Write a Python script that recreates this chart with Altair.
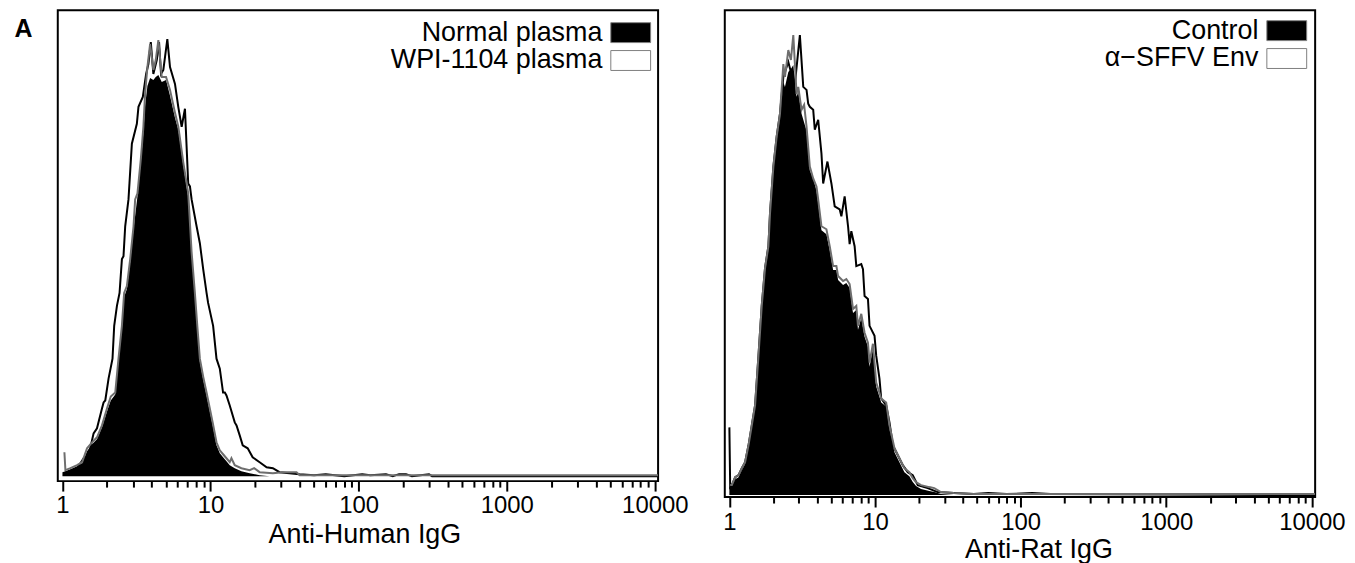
import altair as alt
import pandas as pd

# ---------------- tick values ----------------
TICK_VALUES = [1, 2, 3, 4, 5, 6, 7, 8, 9,
               10, 20, 30, 40, 50, 60, 70, 80, 90,
               100, 200, 300, 400, 500, 600, 700, 800, 900,
               1000, 2000, 3000, 4000, 5000, 6000, 7000, 8000, 9000,
               10000]
MAJOR_TICKS = [1, 10, 100, 1000, 10000]

# ---------------- left panel (Anti-Human IgG) ----------------
LEFT_LABELS = ["Normal plasma", "WPI-1104 plasma"]

normal_fill_x = [1.0, 1.047, 1.132, 1.256, 1.357, 1.466, 1.584, 1.711, 1.849, 1.998,
                 2.120, 2.273, 2.390, 2.520, 2.610, 2.723, 2.867, 3.020, 3.210, 3.380,
                 3.520, 3.615, 3.747, 3.907, 4.111, 4.266, 4.443, 4.683, 5.006, 5.325,
                 5.753, 6.060, 6.550, 7.070, 7.450, 7.840, 8.150, 8.470, 8.920, 9.400,
                 9.890, 10.40, 10.97, 11.55, 12.15, 12.81, 13.48, 14.57, 16.16, 18.38,
                 21.46, 25.0, 30.0]
normal_fill_y = [4, 5, 7, 10, 13, 25, 32, 37, 49, 65,
                 76, 82, 116, 149, 180, 188, 215, 248, 281, 315,
                 345, 372, 392, 400, 398, 401, 403, 396, 398, 382,
                 360, 348, 312, 280, 222, 181, 147, 115, 97, 81,
                 65, 49, 31, 23, 19, 15, 11, 8, 5, 3,
                 1, 0, 0]

normal_line_x = [1.031, 1.047, 1.132, 1.256, 1.357, 1.466, 1.584, 1.711, 1.849, 1.998,
                 2.120, 2.273, 2.390, 2.520, 2.610, 2.723, 2.867, 3.020, 3.097, 3.210,
                 3.380, 3.436, 3.520, 3.615, 3.747, 3.907, 4.111, 4.266, 4.443, 4.683,
                 5.006, 5.325, 5.753, 6.060, 6.550, 7.070, 7.450, 7.840, 8.150, 8.470,
                 8.920, 9.400, 9.890, 10.40, 10.97, 11.55, 12.15, 12.81, 13.48, 13.84,
                 14.57, 16.16, 18.38, 19.70, 21.46, 26.36, 30.64, 38.06, 40.0, 60.0,
                 100.0, 10500.0]
normal_line_y = [24, 6, 8, 11, 14, 28, 34, 39, 51, 68,
                 80, 84, 118, 151, 184, 191, 218, 251, 278, 284,
                 318, 331, 351, 384, 411, 434, 408, 418, 438, 401,
                 401, 388, 365, 351, 315, 284, 225, 184, 150, 118,
                 100, 84, 68, 52, 34, 26, 22, 18, 14, 18,
                 11, 8, 6, 8, 4, 3, 4, 4, 1, 1,
                 1, 1]

wpi_x = [1.031, 1.075, 1.256, 1.391, 1.503, 1.623, 1.711, 1.849, 1.896, 1.946,
         2.048, 2.178, 2.236, 2.333, 2.430, 2.521, 2.584, 2.653, 2.792, 2.943,
         3.180, 3.261, 3.489, 3.673, 3.806, 3.950, 4.111, 4.335, 4.491, 4.632,
         4.800, 5.108, 5.325, 5.753, 6.055, 6.383, 6.718, 7.067, 7.260, 7.450,
         8.050, 8.470, 8.920, 9.400, 9.630, 10.41, 10.97, 11.55, 12.15, 12.49,
         12.81, 13.48, 14.57, 14.98, 15.74, 16.49, 17.82, 19.25, 21.46, 23.91,
         26.36, 29.24, 34.15, 39.86, 50.0, 60.0, 80.0, 105.7, 120.0, 153.0,
         170.0, 187.5, 209.0, 229.0, 298.5, 313.0, 10500.0]
wpi_y = [3, 4, 8, 18, 21, 43, 48, 68, 74, 76,
         98, 118, 151, 171, 184, 218, 221, 251, 278, 334,
         354, 371, 381, 404, 414, 436, 404, 418, 436, 404,
         408, 439, 411, 394, 371, 351, 369, 294, 291, 278,
         251, 234, 208, 184, 174, 151, 118, 108, 84, 84,
         81, 71, 54, 51, 41, 31, 28, 19, 14, 9,
         8, 4, 3, 2, 1, 2, 0, 2, 1, 2,
         0, 2, 2, 0, 2, 0, 0]

# ---------------- right panel (Anti-Rat IgG) ----------------
RIGHT_LABELS = ["Control", "\u03b1\u2212SFFV Env"]

control_fill_x = [1.0, 1.013, 1.040, 1.096, 1.156, 1.217, 1.282, 1.353, 1.425, 1.501,
                  1.584, 1.668, 1.757, 1.853, 1.901, 2.005, 2.112, 2.225, 2.347, 2.407,
                  2.539, 2.645, 2.747, 2.893, 2.972, 3.130, 3.387, 3.567, 3.763, 3.963,
                  4.071, 4.288, 4.639, 4.887, 5.155, 5.430, 5.577, 6.034, 6.355, 6.694,
                  7.062, 7.439, 7.640, 8.048, 8.477, 8.943, 9.171, 9.674, 10.19, 11.03,
                  11.93, 12.57, 13.60, 14.71, 15.91, 17.21, 18.16, 19.12, 20.70, 23.58,
                  25.51, 28.35, 34.78]
control_fill_y = [8, 9, 9, 16, 18, 25, 31, 48, 68, 88,
                  137, 186, 224, 246, 279, 326, 356, 378, 415, 410,
                  425, 428, 432, 400, 405, 383, 366, 326, 318, 306,
                  293, 266, 262, 246, 226, 226, 216, 211, 213, 208,
                  183, 186, 166, 178, 159, 149, 129, 148, 109, 93,
                  89, 66, 43, 33, 23, 19, 13, 9, 6, 4,
                  3, 1, 0]

control_line_x = [1.013, 1.040, 1.096, 1.156, 1.217, 1.282, 1.353, 1.425, 1.501, 1.584,
                  1.668, 1.757, 1.853, 1.901, 2.005, 2.112, 2.225, 2.347, 2.407, 2.539,
                  2.645, 2.747, 2.893, 2.972, 3.130, 3.260, 3.387, 3.567, 3.763, 3.963,
                  4.071, 4.288, 4.639, 4.887, 5.155, 5.430, 5.577, 6.034, 6.355, 6.694,
                  7.062, 7.439, 7.640, 8.048, 8.477, 8.943, 9.171, 9.674, 10.19, 11.03,
                  11.93, 12.57, 13.60, 14.71, 15.91, 17.21, 18.16, 19.12, 20.70, 23.58,
                  25.51, 28.35, 34.78, 47.64, 60.0, 10500.0]
control_line_y = [10, 10, 18, 20, 27, 33, 50, 70, 90, 140,
                  190, 228, 250, 283, 330, 360, 383, 433, 420, 447,
                  437, 462, 403, 410, 387, 392, 370, 330, 318, 310,
                  297, 270, 267, 250, 230, 230, 220, 215, 217, 212,
                  187, 190, 170, 182, 163, 153, 133, 152, 113, 97,
                  93, 70, 47, 37, 27, 23, 17, 13, 10, 8,
                  7, 3, 2, 1, 1, 1]

env_x = [1.0, 1.013, 1.040, 1.096, 1.156, 1.217, 1.282, 1.353, 1.425, 1.501,
         1.584, 1.668, 1.757, 1.853, 1.901, 2.005, 2.112, 2.225, 2.347, 2.539,
         2.645, 2.817, 3.048, 3.216, 3.387, 3.478, 3.567, 3.763, 3.859, 4.071,
         4.288, 4.405, 4.713, 5.019, 5.287, 5.719, 5.875, 6.187, 6.529, 6.694,
         6.876, 7.243, 7.439, 8.048, 8.266, 8.477, 8.943, 9.171, 9.922, 10.19,
         10.73, 11.03, 11.93, 12.57, 13.26, 14.34, 15.51, 16.78, 18.16, 19.65,
         22.99, 26.92, 34.78, 47.64, 60.0, 80.0, 120.0, 160.0, 10500.0]
env_y = [68, 8, 10, 18, 20, 27, 33, 50, 70, 90,
         140, 190, 228, 250, 283, 330, 360, 383, 420, 435,
         425, 413, 462, 410, 407, 393, 390, 387, 367, 377,
         343, 313, 335, 313, 290, 287, 280, 300, 270, 252,
         265, 250, 230, 232, 227, 200, 197, 170, 160, 140,
         117, 97, 90, 73, 50, 40, 30, 23, 20, 10,
         7, 3, 2, 1, 2, 1, 2, 1, 0]

FONT = "Liberation Sans"
GREY = "#6e6e6e"
X_DOMAIN = [0.93, 10520]


def table(xs, ys, series):
    assert len(xs) == len(ys), (series, len(xs), len(ys))
    return pd.DataFrame({"x": xs, "count": ys, "series": series})


MAJOR_TEST = "indexof([1, 10, 100, 1000, 10000], datum.value) >= 0"


def swatch_legend(legend_x, legend_y):
    return alt.Legend(
        title=None, orient="none", legendX=legend_x, legendY=legend_y,
        padding=0, symbolType="M-1,-0.5H1V0.5H-1Z", symbolSize=1600,
        symbolStrokeColor="#7f7f7f", symbolStrokeWidth=1,
        labelFont=FONT, labelFontSize=27, labelColor="black",
        labelAlign="right", labelOffset={"expr": "-49"}, labelLimit=400,
    )


def panel(fill_x, fill_y, grey_x, grey_y, line_x, line_y, labels, y_domain,
          width, height, x_title, title_x, y_title, legend_x, legend_y1,
          legend_y2, label_padding, title_padding):
    x_enc = alt.X(
        "x:Q",
        scale=alt.Scale(type="log", domain=X_DOMAIN, nice=False),
        title=x_title,
        axis=alt.Axis(
            values=TICK_VALUES,
            tickSize={"condition": {"test": MAJOR_TEST, "value": 10}, "value": 6},
            tickWidth=2, tickColor="black", domain=False, grid=False,
            labelExpr=f"{MAJOR_TEST} ? format(datum.value, 'd') : ''",
            labelFont=FONT, labelFontSize=24, labelColor="black",
            labelPadding=label_padding, labelFlush=False, labelOverlap=False,
            labelBound=False,
            titleFont=FONT, titleFontSize=27, titleFontWeight="normal",
            titleColor="black", titlePadding=title_padding, titleX=title_x,
        ),
    )
    y_scale = alt.Scale(domain=y_domain, nice=False, zero=False)
    if y_title:
        y_axis = alt.Axis(domain=False, ticks=False, labels=False, grid=False,
                          titleAngle=0, titleAlign="left", titleBaseline="top",
                          titleX=-44, titleY=6, titleFont=FONT, titleFontSize=25,
                          titleFontWeight="bold", titleColor="black")
    else:
        y_axis = None
    y_enc = alt.Y("count:Q", scale=y_scale, stack=None, axis=y_axis,
                  title=y_title if y_title else None)

    # treated sample: white-filled histogram (its outline is the black line)
    white_layer = alt.Chart(table(line_x, line_y, labels[1])).mark_area(
        interpolate="linear"
    ).encode(
        x=x_enc, y=y_enc,
        fill=alt.Fill("series:N",
                      scale=alt.Scale(domain=[labels[1]], range=["white"]),
                      legend=swatch_legend(legend_x, legend_y2)),
    )
    # control sample: black-filled histogram
    fill_layer = alt.Chart(table(fill_x, fill_y, labels[0])).mark_area(
        interpolate="linear"
    ).encode(
        x=x_enc, y=y_enc,
        fill=alt.Fill("series:N",
                      scale=alt.Scale(domain=[labels[0]], range=["black"]),
                      legend=swatch_legend(legend_x, legend_y1)),
    )
    black_layer = alt.Chart(table(line_x, line_y, labels[1])).mark_line(
        color="black", strokeWidth=2
    ).encode(x=x_enc, y=y_enc)
    grey_layer = alt.Chart(table(grey_x, grey_y, labels[0] + " line")).mark_line(
        color=GREY, strokeWidth=2
    ).encode(x=x_enc, y=y_enc)

    return alt.layer(white_layer, fill_layer, black_layer, grey_layer).resolve_scale(
        fill="independent"
    ).properties(width=width, height=height)


left = panel(normal_fill_x, normal_fill_y, normal_line_x, normal_line_y,
             wpi_x, wpi_y, LEFT_LABELS, [-5, 468], 603, 473,
             "Anti-Human IgG", 308, "A", 555, 2, 30, 3, 4)
right = panel(control_fill_x, control_fill_y, control_line_x, control_line_y,
              env_x, env_y, RIGHT_LABELS, [-2, 487], 593, 489,
              "Anti-Rat IgG", 315, None, 544, 0, 28, 4, 2)

chart = alt.hconcat(left, right, spacing=31).resolve_scale(
    fill="independent", x="independent", y="independent"
).properties(
    padding={"left": 5, "top": 0, "right": 0, "bottom": 0}
).configure(
    font=FONT,
    view=alt.ViewConfig(stroke="black", strokeWidth=2),
)

chart.save("out.html", embed_options={"renderer": "svg", "actions": False})
